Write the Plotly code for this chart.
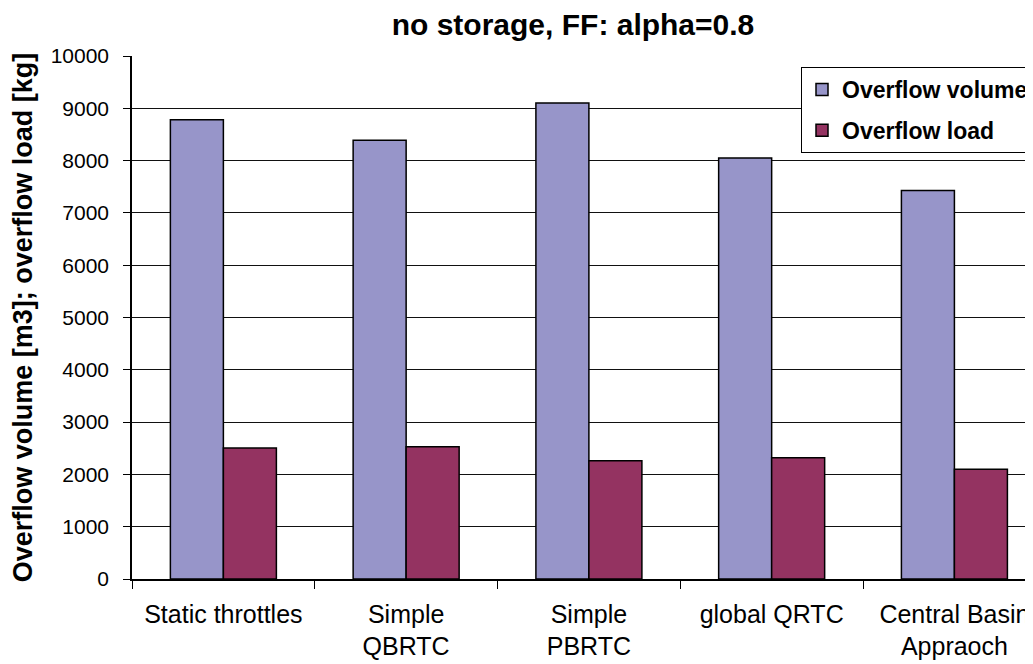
import plotly.graph_objects as go

categories = ["Static throttles", "Simple<br>QBRTC", "Simple<br>PBRTC", "global QRTC", "Central Basin<br>Appraoch"]
overflow_volume = [8780, 8390, 9100, 8050, 7430]
overflow_load = [2505, 2530, 2260, 2320, 2100]
y_ticks = [0, 1000, 2000, 3000, 4000, 5000, 6000, 7000, 8000, 9000, 10000]
y_tick_text = [str(v) for v in y_ticks]

# page body has an 8px default margin; figure is sized/placed to compensate
OFF = 8
W, H = 1033 - OFF, 664 - OFF
ML, MR, MT, MB = 132 - OFF, 0, 56 - OFF, 85

fig = go.Figure()
fig.add_trace(go.Bar(
    name="Overflow volume", x=categories, y=overflow_volume,
    marker=dict(color="#9795C9", line=dict(color="black", width=1.5)),
    legendgroup="a",
))
fig.add_trace(go.Bar(
    name="Overflow load", x=categories, y=overflow_load,
    marker=dict(color="#943361", line=dict(color="black", width=1.5)),
    legendgroup="b",
))

fig.update_layout(
    width=W, height=H,
    margin=dict(l=ML, r=MR, t=MT, b=MB, pad=0, autoexpand=False),
    paper_bgcolor="white", plot_bgcolor="white",
    barmode="group", bargap=0.42, bargroupgap=0,
    font=dict(family="Liberation Sans, Arial, sans-serif", color="black"),
    title=dict(
        text="<b>no storage, FF: alpha=0.8</b>",
        font=dict(size=30, color="black"),
        xref="container", x=(573 - OFF) / W, xanchor="center",
        yref="container", y=1 - (24 - OFF) / H, yanchor="middle",
    ),
    legend=dict(
        x=(801 - OFF - ML) / (W - ML - MR), xanchor="left",
        y=1 - (67 - OFF - MT) / (H - MT - MB), yanchor="top",
        bordercolor="black", borderwidth=1, bgcolor="white",
        font=dict(size=23, color="black", family="Liberation Sans, Arial, sans-serif", weight="bold"),
        traceorder="grouped", tracegroupgap=8,
    ),
    showlegend=True,
)

fig.update_xaxes(
    type="category", range=[-0.5, 4.43],
    showline=True, linecolor="black", linewidth=1.5,
    ticks="outside", tickson="boundaries", ticklen=8, tickcolor="black", tickwidth=1,
    tickfont=dict(size=25, color="black"),
    showgrid=False, ticklabelstandoff=12, automargin=False,
)
fig.update_yaxes(
    range=[0, 10000], tickvals=y_ticks, ticktext=y_tick_text,
    showline=True, linecolor="black", linewidth=1.5,
    ticks="outside", ticklen=7, tickcolor="black", tickwidth=1,
    tickfont=dict(size=21, color="black"),
    showgrid=True, gridcolor="#111111", gridwidth=1,
    zeroline=False, ticklabelstandoff=10, automargin=False,
    title=dict(
        text="<b>Overflow volume [m3]; overflow load [kg]</b>",
        font=dict(size=27, color="black"), standoff=17,
    ),
)

fig.write_html("out.html")
